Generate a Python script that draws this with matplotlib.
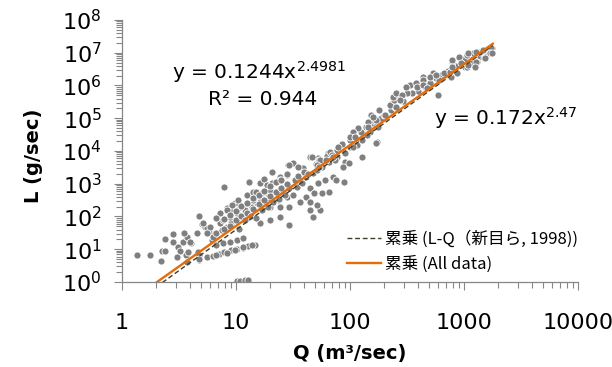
import numpy as np
import matplotlib
matplotlib.use("Agg")
import matplotlib.pyplot as plt
from matplotlib import ticker

low_q = [0.13, 0.25, 0.34, 0.35, 0.38, 0.38, 0.45, 0.45, 0.49, 0.51, 0.48, 0.54, 0.57, 0.55,
         0.56, 0.61, 0.58, 0.66, 0.68, 0.70, 0.73, 0.67, 0.68, 0.68, 0.75, 0.77, 0.82, 0.79,
         0.60, 0.57]
low_l = [0.82, 0.82, 0.64, 0.95, 0.95, 1.31, 1.47, 1.22, 1.07, 0.95, 0.76, 1.22, 1.37, 1.50,
         0.82, 1.19, 0.92, 1.50, 2.02, 1.77, 1.68, 0.92, 0.67, 0.82, 1.65, 1.53, 1.50, 1.28,
         1.22, 0.61]

band_q = [0.68, 0.75, 0.80, 0.85, 0.90, 0.96, 1.01, 1.06, 1.11, 1.17, 0.83, 0.92, 0.99, 1.06,
          1.14, 0.83, 0.89, 0.95, 1.01, 1.06, 1.01, 1.04, 1.08, 1.11]
band_l = [0.70, 0.76, 0.79, 0.85, 0.92, 0.98, 1.01, 1.04, 1.10, 1.13, 0.82, 0.88, 0.98, 1.07,
          1.13, 1.13, 1.19, 1.22, 1.28, 1.34, 0.03, 0.03, 0.06, 0.06]

mid_q = [0.71, 0.77, 0.75, 0.80, 0.83, 0.88, 0.92, 0.96, 0.86, 0.89, 0.95, 1.01, 1.08, 1.14,
         1.19, 1.25, 0.97, 1.04, 1.10, 1.15, 1.21, 1.27, 0.86, 0.92, 0.99, 1.10, 1.15,
         0.90, 1.12, 1.21, 1.25, 1.32, 1.39, 1.46, 1.50, 1.65, 1.72, 1.81, 1.59, 1.02, 0.97,
         0.92, 0.83, 1.68, 1.74, 1.65, 1.47, 1.39, 1.30, 1.21,
         1.47, 1.45, 1.39, 1.32, 1.27, 1.56, 1.62, 1.68, 1.71, 1.76, 1.82, 1.89,
         1.18, 1.24, 1.30, 1.36, 1.41, 1.47, 1.54, 1.21, 1.30, 1.37, 1.45, 1.50,
         1.65, 1.72, 1.78, 1.85, 1.62, 1.69, 1.76, 1.82, 1.65, 1.71,
         1.30, 1.39, 1.47, 1.56]
mid_l = [1.80, 1.68, 1.50, 1.37, 1.50, 1.59, 1.68, 1.80, 1.80, 1.89, 1.98, 2.11, 2.20, 2.29,
         2.41, 2.50, 2.20, 2.29, 2.41, 2.50, 2.60, 2.72, 2.11, 2.26, 2.41, 2.66, 2.75,
         2.90, 3.05, 3.02, 3.15, 3.36, 3.21, 3.57, 3.63, 3.82, 3.79, 3.94, 3.48, 2.50, 2.35,
         2.20, 1.95, 1.98, 2.20, 2.20, 1.74, 1.98, 1.89, 1.80,
         3.57, 3.27, 3.11, 3.02, 2.96, 3.11, 3.21, 3.33, 3.42, 3.51, 3.66, 3.82,
         2.75, 2.75, 2.81, 2.75, 2.72, 2.87, 2.90, 2.44, 2.56, 2.50, 2.60, 2.66,
         2.87, 3.02, 3.11, 3.21, 2.60, 2.72, 2.72, 2.75, 2.44, 2.35,
         2.29, 2.29, 2.29, 2.44]

# the crowded strip hugging the fitted lines
near_q = [0.90, 0.90, 0.95, 0.95, 1.00, 1.00, 1.03, 1.05, 1.05, 1.08, 1.10, 1.10, 1.13, 1.15,
          1.15, 1.18, 1.20, 1.20, 1.23, 1.25, 1.25, 1.28, 1.30, 1.30, 1.33, 1.35, 1.35, 1.38,
          1.40, 1.40, 1.43, 1.45, 1.45, 1.52, 1.55, 1.55, 1.58, 1.60, 1.63, 1.70, 1.73, 1.80,
          1.83, 1.90, 1.93, 2.00, 2.04, 2.10, 2.14, 2.20, 2.27, 2.30, 2.36, 2.40, 2.47, 2.60,
          2.66, 2.70, 2.76, 2.80, 2.86, 2.93, 3.00, 3.06, 3.13]
near_l = [1.63, 1.92, 1.71, 2.05, 1.88, 2.18, 1.62, 2.00, 2.31, 1.90, 2.12, 2.42, 2.02, 2.24,
          2.56, 1.95, 2.37, 2.66, 2.20, 2.49, 2.79, 2.28, 2.62, 2.93, 2.45, 2.74, 3.04, 2.52,
          2.86, 3.12, 2.66, 2.99, 3.29, 3.10, 3.24, 3.50, 3.02, 3.36, 3.30, 3.61, 3.72, 3.85,
          3.96, 4.10, 4.20, 4.35, 4.47, 4.58, 4.72, 4.84, 5.00, 5.10, 5.26, 5.33, 5.52, 5.83,
          5.95, 6.07, 6.22, 6.32, 6.44, 6.58, 6.81, 6.90, 7.01]

up_q = [2.53, 2.55, 2.50, 2.44, 2.38, 2.35, 2.41, 2.19, 2.20, 2.16, 2.24, 2.18, 2.15, 2.24,
        2.07, 2.03, 2.00, 2.09, 2.06, 2.00, 2.11, 1.89, 1.84, 1.87, 1.96, 1.67, 1.74, 1.71,
        1.94, 2.64, 2.58, 2.49, 2.39, 2.23, 2.20, 2.16, 2.25, 2.23, 2.11, 2.05, 2.03, 1.96,
        1.99, 1.90, 1.85, 1.79, 1.73, 1.88, 1.95, 2.26, 2.31]
up_l = [6.02, 5.77, 5.77, 5.65, 5.50, 5.40, 5.34, 5.10, 4.95, 4.89, 4.79, 4.58, 4.49, 4.28,
        4.70, 4.58, 4.43, 4.34, 4.18, 4.12, 3.82, 4.03, 3.88, 3.73, 3.66, 3.82, 3.73, 3.57,
        3.51, 6.26, 6.08, 5.95, 5.56, 4.95, 5.04, 4.73, 4.73, 4.24, 4.34, 4.43, 4.12, 3.94,
        3.63, 4.12, 3.82, 3.73, 3.51, 3.11, 3.05, 5.25, 5.10]

top_q = [2.38, 2.64, 2.73, 2.77, 2.78, 2.90, 2.96, 3.03, 3.08, 3.14, 3.20, 3.01, 3.07, 3.12,
         2.94, 2.89, 2.90, 3.14, 3.20, 3.25, 3.04, 3.11, 3.17, 3.24, 3.03, 3.18, 3.23, 3.25,
         3.19, 3.04, 3.11, 2.41, 2.46, 2.44, 2.59, 2.64, 2.68, 2.70, 2.76, 2.83, 2.88, 2.90,
         2.98, 3.10]
top_l = [5.65, 6.17, 6.38, 5.71, 6.17, 6.72, 6.87, 6.93, 6.99, 6.87, 6.99, 6.57, 6.69, 6.72,
         6.38, 6.26, 6.78, 7.02, 7.08, 7.15, 6.99, 7.02, 7.08, 7.15, 6.57, 6.84, 6.99, 6.99,
         6.84, 6.63, 6.72, 5.77, 5.71, 5.56, 5.95, 6.02, 5.92, 6.26, 6.32, 6.38, 6.41, 6.57,
         6.69, 6.57]

log_q = np.array(low_q + band_q + mid_q + near_q + up_q + top_q)
log_l = np.array(low_l + band_l + mid_l + near_l + up_l + top_l)
Q = 10 ** log_q
L = 10 ** log_l

# power-law fits
fit_old = (0.1244, 2.4981)   # L-Q (新目ら, 1998)
fit_all = (0.172, 2.47)      # all data
q_line = np.logspace(np.log10(2.0), np.log10(1800), 200)

plt.rcParams['font.family'] = ['DejaVu Sans', 'Noto Sans CJK JP']
plt.rcParams['mathtext.fontset'] = 'dejavusans'
# tick look set up front so every tick gets it
plt.rcParams.update({
    'xtick.major.pad': 17, 'ytick.major.pad': 9,
    'xtick.major.size': 5.5, 'ytick.major.size': 5.5,
    'xtick.minor.size': 4, 'ytick.minor.size': 4,
    'xtick.major.width': 0.8, 'ytick.major.width': 0.8,
    'xtick.minor.width': 0.8, 'ytick.minor.width': 0.8,
    'xtick.color': '#868686', 'ytick.color': '#868686',
    'xtick.labelcolor': 'black', 'ytick.labelcolor': 'black',
    'xtick.labelsize': 16, 'ytick.labelsize': 16,
    'xtick.direction': 'out', 'ytick.direction': 'out',
})

fig = plt.figure(figsize=(6.12, 3.67), dpi=100)
ax = fig.add_axes([0.199, 0.2316, 0.745, 0.714])

ax.scatter(Q, L, s=26, c='#7f7f7f', edgecolors='white', linewidths=0.6, zorder=2)
ax.plot(q_line, fit_old[0] * q_line ** fit_old[1], color='#3f3f2a', lw=1.0,
        ls=(0, (3.5, 2)), zorder=3, label='累乗 (L-Q（新目ら, 1998))')
ax.plot(q_line, fit_all[0] * q_line ** fit_all[1], color='#e46c0a', lw=1.7,
        zorder=4, label='累乗 (All data)')

ax.set_xscale('log')
ax.set_yscale('log')
ax.set_xlim(1, 10000)
ax.set_ylim(1, 1e8)

ax.xaxis.set_major_locator(ticker.LogLocator(base=10, numticks=10))
ax.xaxis.set_major_formatter(ticker.FuncFormatter(lambda v, _: f"{v:g}"))
ax.xaxis.set_minor_locator(ticker.LogLocator(base=10, subs=range(2, 10), numticks=50))
ax.xaxis.set_minor_formatter(ticker.NullFormatter())
ax.yaxis.set_major_locator(ticker.LogLocator(base=10, numticks=20))
ax.yaxis.set_minor_locator(ticker.LogLocator(base=10, subs=range(2, 10), numticks=50))
ax.yaxis.set_minor_formatter(ticker.NullFormatter())

for side in ['top', 'right']:
    ax.spines[side].set_visible(False)
for side in ['left', 'bottom']:
    ax.spines[side].set_color('#868686')
    ax.spines[side].set_linewidth(0.9)

ax.set_xlabel('Q (m³/sec)', fontsize=14, fontweight='bold')
ax.set_ylabel('L (g/sec)', fontsize=14, fontweight='bold')
ax.xaxis.set_label_coords(0.5, -0.235)
ax.yaxis.set_label_coords(-0.172, 0.48)

ax.text(0.110, 0.80, r'y = 0.1244x$^{2.4981}$', transform=ax.transAxes,
        fontsize=14.5, ha='left', va='center')
ax.text(0.189, 0.695, 'R² = 0.944', transform=ax.transAxes,
        fontsize=14.5, ha='left', va='center')
ax.text(0.684, 0.626, r'y = 0.172x$^{2.47}$', transform=ax.transAxes,
        fontsize=14.5, ha='left', va='center')

leg = ax.legend(loc='lower left', bbox_to_anchor=(0.495, 0.035), frameon=False,
                prop={'family': ['Noto Sans CJK JP'], 'size': 12},
                handlelength=2.0, handletextpad=0.25, labelspacing=0.45,
                borderpad=0, borderaxespad=0)

fig.savefig('out.png', dpi=100)
